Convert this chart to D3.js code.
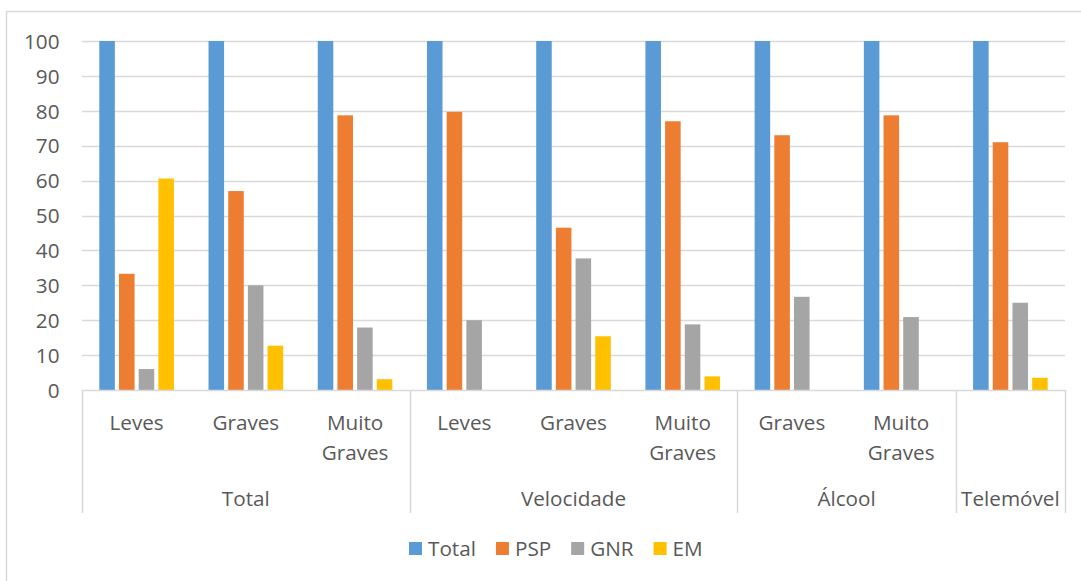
<!DOCTYPE html>
<html>
<head>
<meta charset="utf-8">
<script src="https://cdn.jsdelivr.net/npm/d3@7"></script>
<style>
  html, body { margin: 0; padding: 0; background: #ffffff; }
  svg { display: block; }
  text { font-family: "Open Sans", sans-serif; fill: #595959; }
</style>
</head>
<body>
<svg id="chart" width="1081" height="581"></svg>
<script>
// ---- data ----
const subCategories = ["Leves", "Graves", "Muito Graves", "Leves", "Graves", "Muito Graves", "Graves", "Muito Graves", ""];
const groups = ["Total", "Velocidade", "Álcool", "Telemóvel"];
const groupSizes = [3, 3, 2, 1];
const seriesNames = ["Total", "PSP", "GNR", "EM"];
const totalValues = [100, 100, 100, 100, 100, 100, 100, 100, 100];
const pspValues   = [33.3, 57.0, 78.7, 79.7, 46.5, 77.0, 73.0, 78.7, 71.0];
const gnrValues   = [6.0, 30.0, 17.9, 20.0, 37.7, 18.8, 26.7, 20.9, 25.0];
const emValues    = [60.6, 12.7, 3.1, null, 15.4, 3.9, null, null, 3.5];
const yTicks = [0, 10, 20, 30, 40, 50, 60, 70, 80, 90, 100];
const colors = ["#5b9bd5", "#ed7d31", "#a5a5a5", "#ffc000"];

const seriesValues = [totalValues, pspValues, gnrValues, emValues];

// ---- layout ----
const FS = 20.7;
const svg = d3.select("#chart");
const plot = { left: 82, right: 1065, top: 41, bottom: 390 };
const gridColor = "#d9d9d9";

// outer chart border (only top & left visible)
svg.append("path")
  .attr("d", "M6.5,581 L6.5,11.5 L1081,11.5")
  .attr("fill", "none").attr("stroke", gridColor).attr("stroke-width", 1.5);

const idx = d3.range(subCategories.length);
const x = d3.scaleBand().domain(idx).range([plot.left, plot.right]).paddingInner(0).paddingOuter(0);
const bw = x.bandwidth();
const outerGap = 17.3;
const xs = d3.scaleBand().domain(seriesNames).range([outerGap, bw - outerGap]).paddingInner(0.21).paddingOuter(0);
const y = d3.scaleLinear().domain([0, 100]).range([plot.bottom, plot.top]);

// gridlines
svg.append("g").selectAll("line").data(yTicks.filter(t => t > 0)).join("line")
  .attr("x1", plot.left).attr("x2", plot.right)
  .attr("y1", d => Math.round(y(d)) + 0.5).attr("y2", d => Math.round(y(d)) + 0.5)
  .attr("stroke", gridColor).attr("stroke-width", 1.5);

// y-axis labels
const yAxis = d3.axisLeft(y).tickValues(yTicks).tickSize(0).tickPadding(0);
const yg = svg.append("g").attr("transform", `translate(${plot.left - 22.5},0)`).call(yAxis);
yg.select(".domain").remove();
yg.selectAll("text").attr("font-size", FS).attr("fill", "#595959")
  .attr("font-family", "'Open Sans', sans-serif").attr("dy", "0.35em");

// bars
const barData = [];
idx.forEach(i => seriesNames.forEach((s, j) => {
  const v = seriesValues[j][i];
  if (v != null) barData.push({ i, s, j, v });
}));
svg.append("g").selectAll("rect").data(barData).join("rect")
  .attr("x", d => x(d.i) + xs(d.s))
  .attr("width", xs.bandwidth())
  .attr("y", d => y(d.v))
  .attr("height", d => y(0) - y(d.v))
  .attr("fill", d => colors[d.j]);

// category axis baseline
svg.append("line").attr("x1", plot.left).attr("x2", plot.right)
  .attr("y1", plot.bottom + 0.5).attr("y2", plot.bottom + 0.5)
  .attr("stroke", gridColor).attr("stroke-width", 1.5);

// group separators
let bounds = [0];
groupSizes.forEach(n => bounds.push(bounds[bounds.length - 1] + n));
const sepX = bounds.map(b => b < subCategories.length ? x(b) : plot.right);
svg.append("g").selectAll("line").data(sepX).join("line")
  .attr("x1", d => Math.round(d) + 0.5).attr("x2", d => Math.round(d) + 0.5)
  .attr("y1", plot.bottom).attr("y2", 513)
  .attr("stroke", gridColor).attr("stroke-width", 1.5);

// sub-category labels (wrapped)
const subG = svg.append("g");
idx.forEach(i => {
  const words = subCategories[i] ? subCategories[i].split(" ") : [];
  const t = subG.append("text").attr("text-anchor", "middle").attr("font-size", FS)
    .attr("x", x(i) + bw / 2).attr("y", 429.5);
  words.forEach((w, k) => t.append("tspan").attr("x", x(i) + bw / 2).attr("dy", k === 0 ? 0 : 30).text(w));
});

// group labels
svg.append("g").selectAll("text").data(groups).join("text")
  .attr("text-anchor", "middle").attr("font-size", FS)
  .attr("x", (d, k) => (sepX[k] + sepX[k + 1]) / 2)
  .attr("y", 505.5)
  .text(d => d);

// legend
const legend = svg.append("g");
let lx = 409;
seriesNames.forEach((s, j) => {
  legend.append("rect").attr("x", lx).attr("y", 542).attr("width", 13).attr("height", 13).attr("fill", colors[j]);
  const t = legend.append("text").attr("x", lx + 19).attr("y", 556).attr("font-size", FS).text(s);
  const w = t.node().getComputedTextLength();
  lx = lx + 19 + w + 20;
});
</script>
</body>
</html>
